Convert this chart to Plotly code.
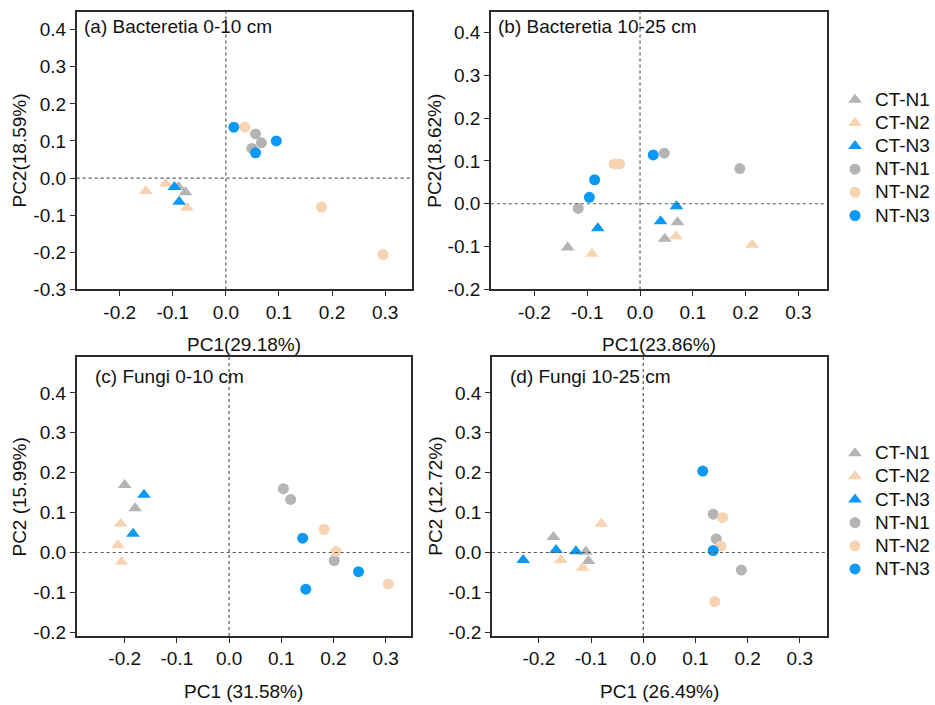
import plotly.graph_objects as go

FONT = "Liberation Sans, Arial, sans-serif"

groups = ["CT-N1", "CT-N2", "CT-N3", "NT-N1", "NT-N2", "NT-N3"]
colors = ["#b4b4b4", "#f8d3b2", "#0a99f5", "#b4b4b4", "#f8d3b2", "#0a99f5"]
symbols = ["triangle-up", "triangle-up", "triangle-up", "circle", "circle", "circle"]

# Panel (a) Bacteretia 0-10 cm
a_x = [[-0.089, -0.076], [-0.151, -0.113, -0.073], [-0.097, -0.088],
       [0.056, 0.067, 0.049], [0.036, 0.180, 0.296], [0.015, 0.095, 0.056]]
a_y = [[-0.024, -0.038], [-0.035, -0.015, -0.080], [-0.024, -0.064],
       [0.119, 0.095, 0.080], [0.137, -0.078, -0.206], [0.137, 0.100, 0.068]]

# Panel (b) Bacteretia 10-25 cm
b_x = [[-0.137, 0.047, 0.071], [-0.091, 0.068, 0.2125], [-0.080, 0.039, 0.069],
       [0.046, 0.189, -0.117], [-0.049, -0.039], [0.025, -0.086, -0.096]]
b_y = [[-0.102, -0.082, -0.043], [-0.117, -0.076, -0.096], [-0.057, -0.041, -0.006],
       [0.118, 0.082, -0.011], [0.093, 0.093], [0.114, 0.056, 0.015]]

# Panel (c) Fungi 0-10 cm
c_x = [[-0.200, -0.180], [-0.208, -0.213, -0.206], [-0.163, -0.184],
       [0.104, 0.118, 0.2015], [0.182, 0.205, 0.305], [0.141, 0.147, 0.248]]
c_y = [[0.169, 0.111], [0.072, 0.018, -0.023], [0.145, 0.047],
       [0.160, 0.133, -0.020], [0.058, 0.003, -0.079], [0.036, -0.092, -0.048]]

# Panel (d) Fungi 10-25 cm
d_x = [[-0.172, -0.110, -0.105], [-0.080, -0.158, -0.116], [-0.230, -0.167, -0.129],
       [0.134, 0.140, 0.188], [0.152, 0.149, 0.137], [0.114, 0.134]]
d_y = [[0.039, 0.002, -0.021], [0.072, -0.019, -0.038], [-0.019, 0.006, 0.003],
       [0.096, 0.034, -0.044], [0.088, 0.016, -0.123], [0.204, 0.005]]

panel_titles = ["(a) Bacteretia 0-10 cm", "(b) Bacteretia 10-25 cm",
                "(c) Fungi 0-10 cm", "(d) Fungi 10-25 cm"]
x_titles = ["PC1(29.18%)", "PC1(23.86%)", "PC1 (31.58%)", "PC1 (26.49%)"]
y_titles = ["PC2(18.59%)", "PC2(18.62%)", "PC2 (15.99%)", "PC2 (12.72%)"]

x_tickvals = [-0.2, -0.1, 0.0, 0.1, 0.2, 0.3]
x_ticktext = ["-0.2", "-0.1", "0.0", "0.1", "0.2", "0.3"]
y_tickvals_a = [-0.3, -0.2, -0.1, 0.0, 0.1, 0.2, 0.3, 0.4]
y_ticktext_a = ["-0.3", "-0.2", "-0.1", "0.0", "0.1", "0.2", "0.3", "0.4"]
y_tickvals = [-0.2, -0.1, 0.0, 0.1, 0.2, 0.3, 0.4]
y_ticktext = ["-0.2", "-0.1", "0.0", "0.1", "0.2", "0.3", "0.4"]

W, H = 935, 705
FS = 19

# layout geometry (pixels)
boxes = [(77, 414, 12, 294), (493, 831, 12, 294),
         (77, 413, 363, 646), (494, 831, 363, 646)]
x_ranges = [[-0.281, 0.351], [-0.2825, 0.355], [-0.292, 0.349], [-0.29, 0.353]]
y_ranges = [[-0.30, 0.448], [-0.20, 0.448], [-0.209, 0.489], [-0.209, 0.489]]

fig = go.Figure()
datasets = [(a_x, a_y), (b_x, b_y), (c_x, c_y), (d_x, d_y)]
for p, (px, py) in enumerate(datasets):
    xa = "x" if p == 0 else f"x{p+1}"
    ya = "y" if p == 0 else f"y{p+1}"
    for g in range(len(groups)):
        fig.add_trace(go.Scatter(
            x=px[g], y=py[g], mode="markers",
            name=f"<span style='font-size:{FS}px'>{groups[g]}</span>",
            xaxis=xa, yaxis=ya,
            marker=dict(color=colors[g], symbol=symbols[g],
                        size=12 if symbols[g] == "triangle-up" else 11,
                        line=dict(width=0)),
            showlegend=(p in (1, 3)),
            legend="legend" if p == 1 else "legend2",
        ))

axis_style = dict(showgrid=False, zeroline=False, showline=True, mirror=True,
                  linecolor="#2a2a2a", linewidth=1.5, ticks="outside", ticklen=5,
                  tickwidth=1.2, tickcolor="#2a2a2a",
                  tickfont=dict(family=FONT, size=FS, color="#111111"))

layout = dict(width=W, height=H, margin=dict(l=0, r=0, t=0, b=0),
              paper_bgcolor="white", plot_bgcolor="white",
              font=dict(family=FONT, size=FS, color="#111111"))
annotations = []
shapes = []
for p in range(4):
    l, r, t, b = boxes[p]
    sfx = "" if p == 0 else str(p + 1)
    layout["xaxis" + sfx] = dict(axis_style, domain=[l / W, r / W], range=x_ranges[p],
                                 tickvals=x_tickvals, ticktext=x_ticktext,
                                 anchor="y" + sfx)
    yv, yt = (y_tickvals_a, y_ticktext_a) if p == 0 else (y_tickvals, y_ticktext)
    layout["yaxis" + sfx] = dict(axis_style, domain=[1 - b / H, 1 - t / H], range=y_ranges[p],
                                 tickvals=yv, ticktext=yt, anchor="x" + sfx)
    # zero reference lines
    shapes.append(dict(type="line", xref="x" + sfx, yref="y" + sfx + " domain",
                       x0=0, x1=0, y0=0, y1=1,
                       line=dict(color="#555555", width=1.2, dash="dot")))
    shapes.append(dict(type="line", xref="x" + sfx + " domain", yref="y" + sfx,
                       x0=0, x1=1, y0=0, y1=0,
                       line=dict(color="#555555", width=1.2, dash="dot")))
    # panel label
    annotations.append(dict(text=panel_titles[p], xref="paper", yref="paper",
                            x=(l + 5 if p in (0, 1) else l + 16) / W,
                            y=1 - (t + (15 if p in (0, 1) else 19)) / H,
                            xanchor="left", yanchor="middle",
                            showarrow=False, font=dict(family=FONT, size=FS, color="#111111")))
    # axis titles
    annotations.append(dict(text=x_titles[p], xref="paper", yref="paper",
                            x=(l + r) / 2 / W, y=1 - (b + 56) / H,
                            xanchor="center", yanchor="middle", showarrow=False,
                            font=dict(family=FONT, size=FS, color="#111111")))
    annotations.append(dict(text=y_titles[p], xref="paper", yref="paper",
                            x=(l - 57) / W, y=1 - (t + b) / 2 / H, textangle=-90,
                            xanchor="center", yanchor="middle", showarrow=False,
                            font=dict(family=FONT, size=FS, color="#111111")))

layout["annotations"] = annotations
layout["shapes"] = shapes
legend_style = dict(font=dict(family=FONT, size=15.5, color="#111111"),
                    bgcolor="rgba(0,0,0,0)", xanchor="left", yanchor="top",
                    tracegroupgap=0, itemclick=False)
layout["legend"] = dict(legend_style, x=839 / W, y=1 - 84.5 / H)
layout["legend2"] = dict(legend_style, x=839 / W, y=1 - 443.5 / H)
fig.update_layout(**layout)

fig.write_html("out.html")
